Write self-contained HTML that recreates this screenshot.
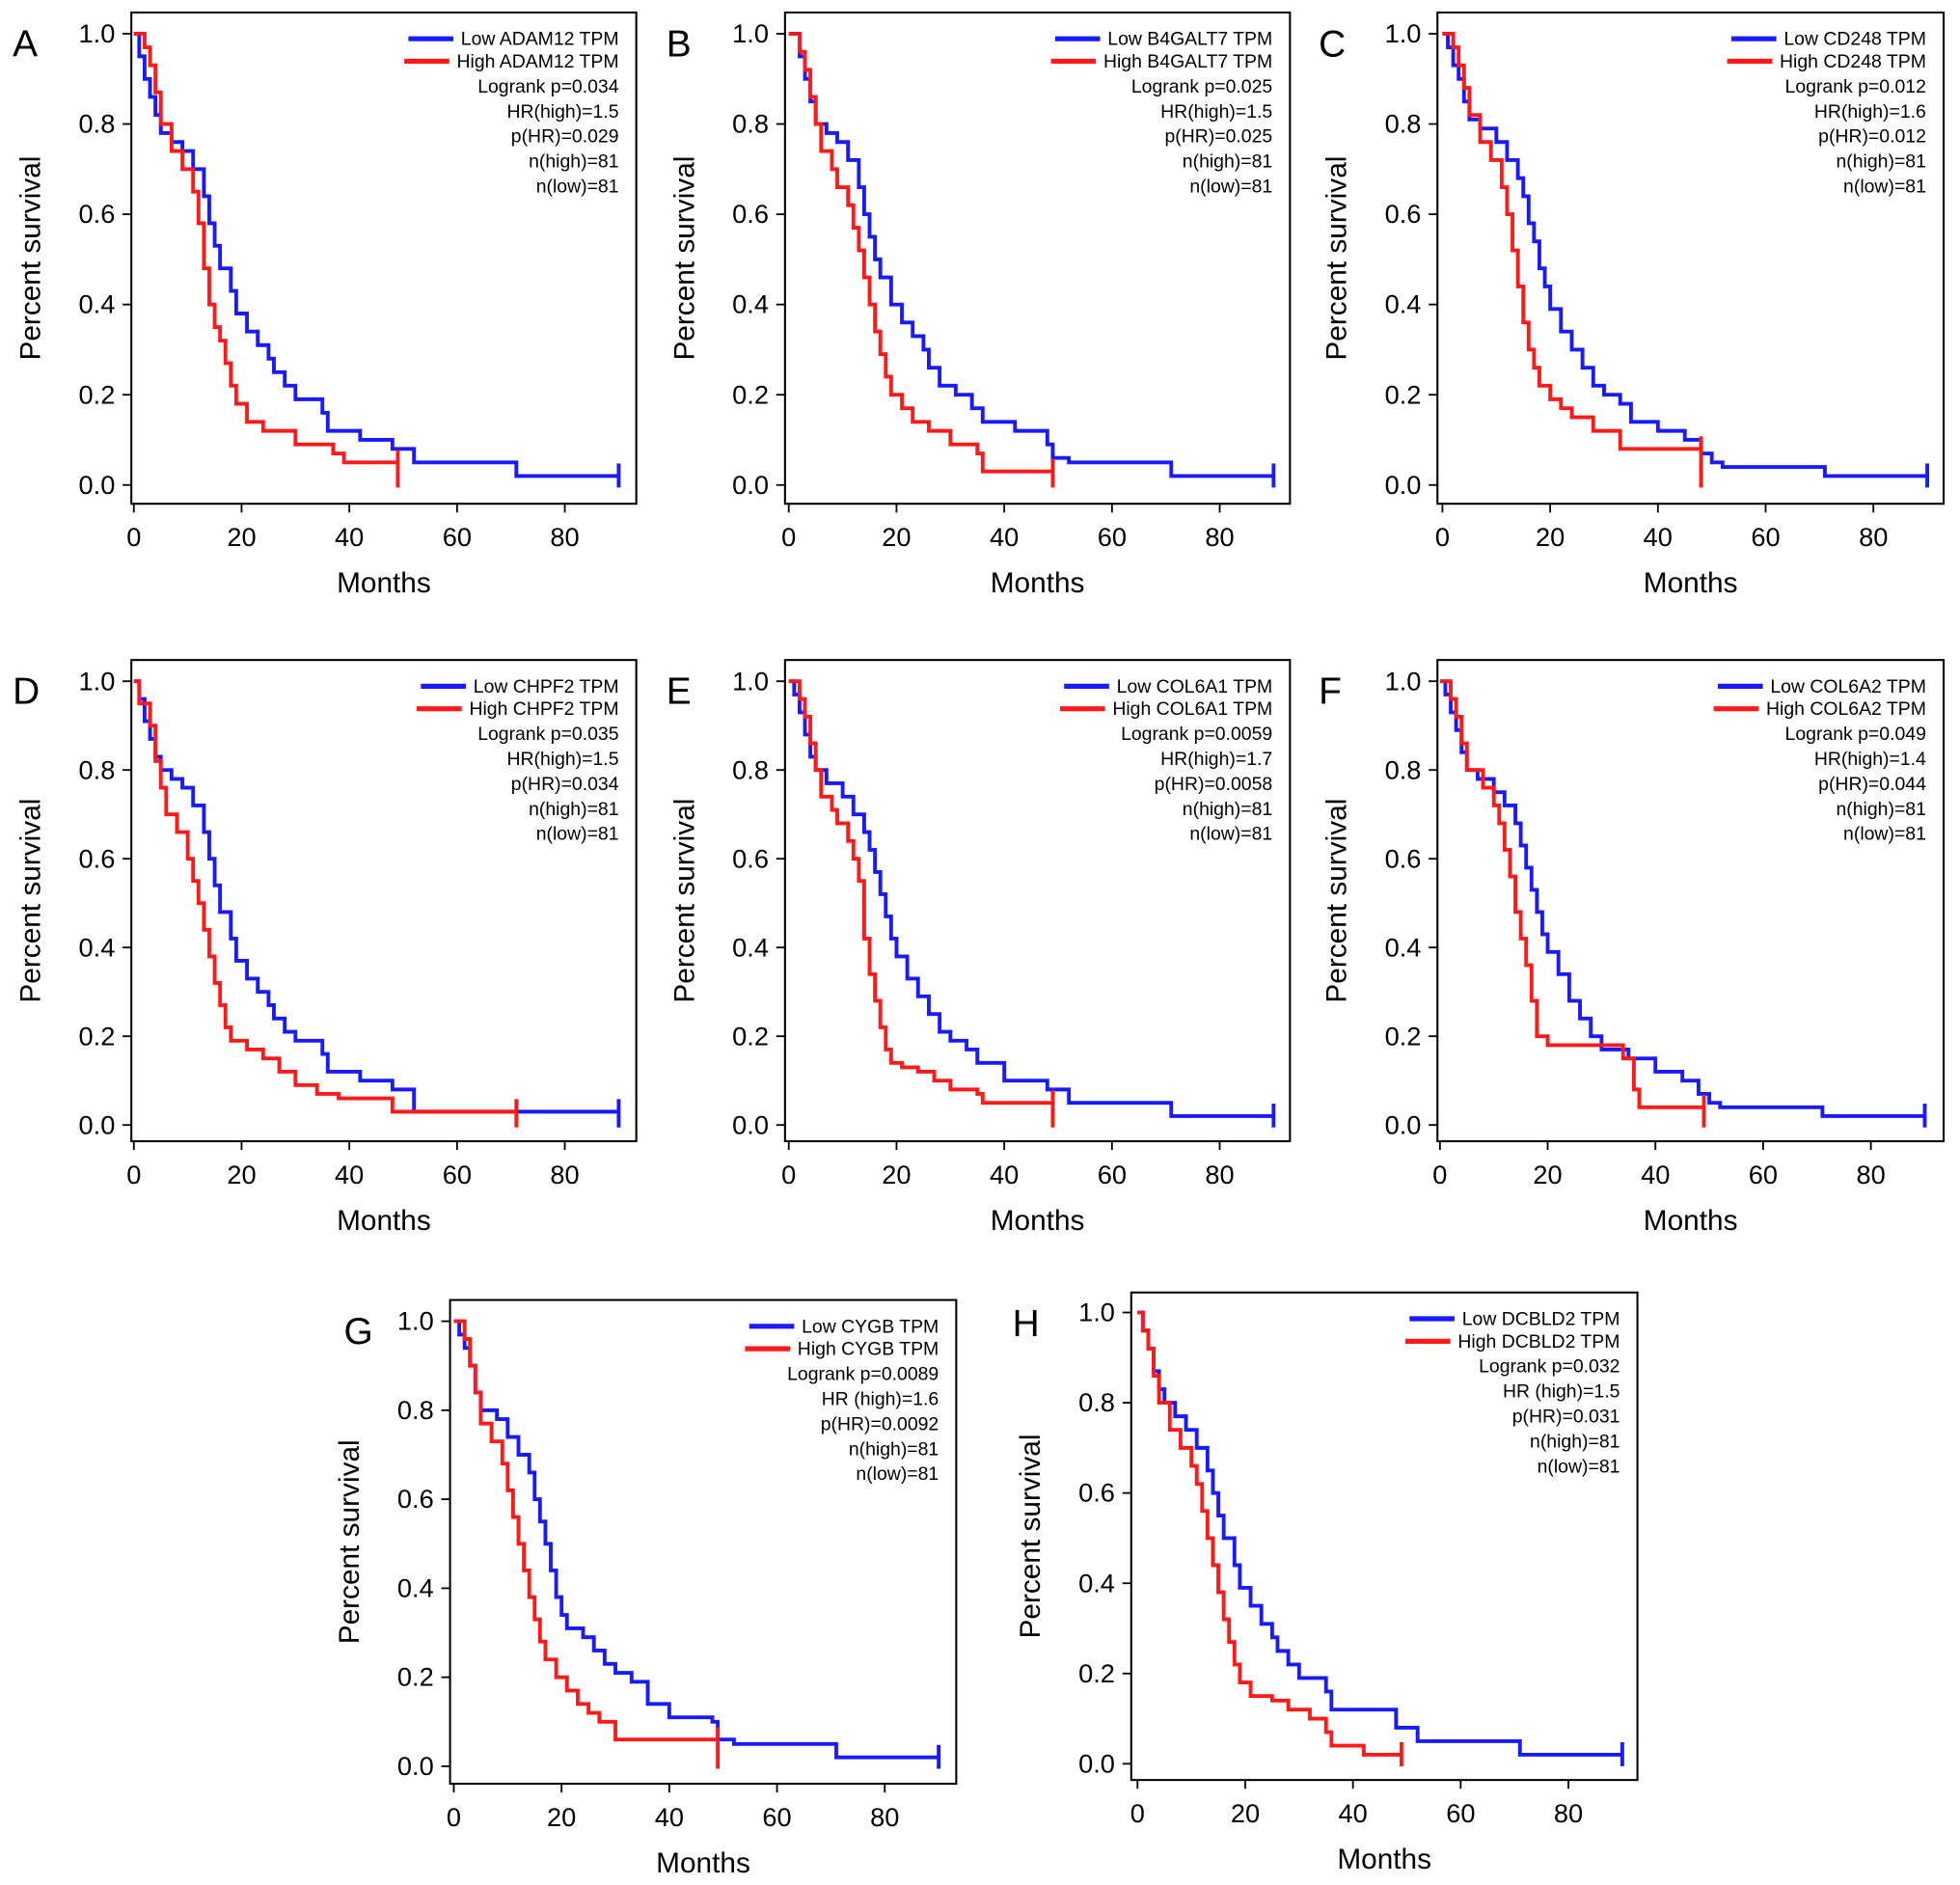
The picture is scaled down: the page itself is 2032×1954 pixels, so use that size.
<!DOCTYPE html>
<html><head><meta charset="utf-8">
<style>
html,body{margin:0;padding:0;background:#fff;}
svg{display:block;font-family:"Liberation Sans",Arial,sans-serif;}
</style></head>
<body>
<svg id="fig" width="2032" height="1954" viewBox="0 0 1568 1508" xmlns="http://www.w3.org/2000/svg"></svg>
<script>
const xTicks = [0,20,40,60,80];
const yTicks = [0,0.2,0.4,0.6,0.8,1.0];
const yTickLabels = ["0.0","0.2","0.4","0.6","0.8","1.0"];
const panelLetters = ["A","B","C","D","E","F","G","H"];
const genes = ["ADAM12","B4GALT7","CD248","CHPF2","COL6A1","COL6A2","CYGB","DCBLD2"];
const logrankP = ["0.034","0.025","0.012","0.035","0.0059","0.049","0.0089","0.032"];
const hrHigh = ["1.5","1.5","1.6","1.5","1.7","1.4","1.6","1.5"];
const pHR = ["0.029","0.025","0.012","0.034","0.0058","0.044","0.0092","0.031"];
const nHigh = [81,81,81,81,81,81,81,81];
const nLow = [81,81,81,81,81,81,81,81];

const lowA_T=[0,1,2,3,4,5,7,9,11,13,14,15,16,18,19,21,23,25,26,28,30,35,36,42,48,52,71,90];
const lowA_S=[1,.95,.9,.86,.82,.78,.76,.74,.7,.64,.58,.53,.48,.43,.38,.34,.31,.28,.25,.22,.19,.16,.12,.1,.08,.05,.02,.02];
const highA_T=[0,2,3,4,5,7,9,11,12,13,14,15,16,17,18,19,21,24,30,37,39,49];
const highA_S=[1,.97,.93,.87,.8,.74,.7,.65,.58,.48,.4,.35,.32,.27,.22,.18,.14,.12,.09,.07,.05,.05];

const lowB_T=[0,2,3,4,5,7,9,11,13,14,15,16,17,19,21,23,25,26,28,31,34,36,42,48,49,52,71,90];
const lowB_S=[1,.95,.9,.85,.8,.78,.76,.72,.66,.6,.55,.5,.46,.4,.36,.33,.3,.26,.22,.2,.17,.14,.12,.09,.06,.05,.02,.02];
const highB_T=[0,2,3,4,5,6,8,9,11,12,13,14,15,16,17,18,19,21,23,26,30,35,36,49];
const highB_S=[1,.96,.92,.86,.8,.74,.7,.66,.62,.57,.52,.46,.4,.34,.29,.24,.2,.17,.14,.12,.09,.07,.03,.03];

const lowC_T=[0,1,2,3,4,5,7,10,12,14,15,16,17,18,19,20,22,24,26,28,30,33,35,40,45,48,50,52,71,90];
const lowC_S=[1,.97,.93,.9,.85,.81,.79,.76,.72,.68,.64,.58,.54,.48,.44,.39,.34,.3,.26,.22,.2,.18,.14,.12,.1,.07,.05,.04,.02,.02];
const highC_T=[0,2,3,4,5,7,9,11,12,13,14,15,16,17,18,20,22,24,28,33,48];
const highC_S=[1,.97,.93,.88,.82,.76,.72,.66,.6,.52,.44,.36,.3,.26,.22,.19,.17,.15,.12,.08,.08];

const lowD_T=[0,1,2,3,4,5,7,9,11,13,14,15,16,18,19,21,23,25,26,28,30,35,36,42,48,52,90];
const lowD_S=[1,.96,.91,.87,.83,.8,.78,.76,.72,.66,.6,.54,.48,.42,.37,.33,.3,.27,.24,.21,.19,.16,.12,.1,.08,.03,.03];
const highD_T=[0,1,3,4,5,6,8,10,11,12,13,14,15,16,17,18,21,24,27,30,34,38,48,71];
const highD_S=[1,.95,.9,.82,.76,.7,.66,.6,.55,.5,.44,.38,.32,.27,.22,.19,.17,.15,.12,.09,.07,.06,.03,.03];

const lowE_T=[0,1,2,3,4,5,7,10,12,14,15,16,17,18,19,20,22,24,26,28,30,33,35,40,48,52,71,90];
const lowE_S=[1,.97,.93,.88,.83,.8,.77,.74,.7,.66,.62,.57,.52,.47,.42,.38,.33,.29,.25,.21,.19,.17,.14,.1,.08,.05,.02,.02];
const highE_T=[0,2,3,4,5,6,8,9,11,12,13,14,15,16,17,18,19,21,24,27,30,35,36,47,49];
const highE_S=[1,.96,.92,.86,.8,.74,.71,.68,.64,.6,.55,.42,.34,.28,.22,.17,.14,.13,.12,.1,.08,.07,.05,.05,.05];

const lowF_T=[0,1,2,3,4,5,7,10,12,14,15,16,17,18,19,20,22,24,26,28,30,33,35,40,45,48,50,52,71,90];
const lowF_S=[1,.97,.93,.89,.84,.8,.78,.75,.72,.68,.63,.58,.53,.48,.43,.39,.34,.28,.24,.2,.17,.17,.15,.12,.1,.07,.05,.04,.02,.02];
const highF_T=[0,2,3,4,5,8,10,11,12,13,14,15,16,17,18,20,30,34,36,37,49];
const highF_S=[1,.96,.92,.86,.8,.76,.72,.68,.62,.56,.48,.42,.36,.28,.2,.18,.18,.15,.08,.04,.04];

const lowG_T=[0,1,2,3,4,5,8,10,12,14,15,16,17,18,19,20,21,24,26,28,30,33,36,40,48,49,52,71,90];
const lowG_S=[1,.97,.94,.9,.84,.8,.78,.74,.7,.66,.6,.55,.5,.44,.38,.34,.31,.29,.26,.23,.21,.19,.14,.11,.1,.06,.05,.02,.02];
const highG_T=[0,2,3,4,5,7,9,10,11,12,13,14,15,16,17,19,21,23,25,27,30,49];
const highG_S=[1,.96,.9,.84,.77,.73,.68,.62,.56,.5,.44,.38,.33,.28,.24,.2,.17,.14,.12,.1,.06,.06];

const lowH_T=[0,1,2,3,4,5,7,9,11,13,14,15,16,18,19,21,23,25,26,28,30,35,36,42,48,52,71,90];
const lowH_S=[1,.96,.92,.87,.83,.8,.77,.74,.7,.65,.6,.55,.5,.44,.39,.35,.31,.28,.25,.22,.19,.16,.12,.12,.08,.05,.02,.02];
const highH_T=[0,1,2,3,4,6,8,10,11,12,13,14,15,16,17,18,19,21,25,28,32,35,36,42,49];
const highH_S=[1,.96,.92,.86,.8,.74,.7,.66,.62,.56,.5,.44,.38,.32,.27,.22,.18,.15,.14,.12,.1,.07,.04,.02,.02];

const lowTimes=[lowA_T,lowB_T,lowC_T,lowD_T,lowE_T,lowF_T,lowG_T,lowH_T];
const lowSurv=[lowA_S,lowB_S,lowC_S,lowD_S,lowE_S,lowF_S,lowG_S,lowH_S];
const highTimes=[highA_T,highB_T,highC_T,highD_T,highE_T,highF_T,highG_T,highH_T];
const highSurv=[highA_S,highB_S,highC_S,highD_S,highE_S,highF_S,highG_S,highH_S];

// layout (pixel geometry, not data)
const boxes=[
 {l:105,t:10,r:509,b:403,y1:27,y0:388,x0:107},
 {l:628,t:10,r:1032,b:403,y1:27,y0:388,x0:631},
 {l:1150,t:10,r:1555,b:403,y1:27,y0:388,x0:1154},
 {l:105,t:528,r:509,b:913,y1:545,y0:900,x0:107},
 {l:628,t:528,r:1032,b:913,y1:545,y0:900,x0:631},
 {l:1150,t:528,r:1555,b:913,y1:545,y0:900,x0:1152},
 {l:360,t:1040,r:765,b:1427,y1:1057,y0:1413,x0:363},
 {l:905,t:1034,r:1310,b:1424,y1:1050,y0:1411,x0:910}
];
const PXM=4.31;
const NS="http://www.w3.org/2000/svg";
const svg=document.getElementById('fig');
function mk(tag,attrs,parent){const e=document.createElementNS(NS,tag);for(const k in attrs)e.setAttribute(k,attrs[k]);(parent||svg).appendChild(e);return e;}
function txt(s,attrs,parent){const e=mk('text',attrs,parent);e.textContent=s;return e;}

boxes.forEach((B,i)=>{
  const xs=m=>B.x0+m*PXM;
  const ys=v=>B.y0-(B.y0-B.y1)*v;
  const g=mk('g',{});
  
  
  const fr=mk('rect',{x:B.l,y:B.t,width:B.r-B.l,height:B.b-B.t,fill:'none',stroke:'#000','stroke-width':1.6},g);
  
  
  const L=txt(panelLetters[i],{x:B.l-95+(i==6?10:0),y:B.t+35,'font-size':30,fill:'#000'},g);
  
  
  yTicks.forEach((v,k)=>{
    mk('line',{x1:B.l-7,x2:B.l,y1:ys(v),y2:ys(v),stroke:'#000','stroke-width':1.4},g);
    const t=txt(yTickLabels[k],{x:B.l-13,y:ys(v)+7,'text-anchor':'end','font-size':21},g);
    
    
  });
  xTicks.forEach(m=>{
    mk('line',{x1:xs(m),x2:xs(m),y1:B.b,y2:B.b+7,stroke:'#000','stroke-width':1.4},g);
    const t=txt(String(m),{x:xs(m),y:B.b+34,'text-anchor':'middle','font-size':21},g);
    
    
  });
  const xl=txt('Months',{x:(B.l+B.r)/2,y:B.b+71,'text-anchor':'middle','font-size':23},g);
  
  
  const cy=(B.t+B.b)/2, cx=B.l-73;
  const yl=txt('Percent survival',{x:cx,y:cy,'text-anchor':'middle','font-size':23,transform:`rotate(-90 ${cx} ${cy})`},g);
  
  
  function curve(T,S,color,name){
    let d=`M${xs(T[0])},${ys(S[0])}`;
    for(let k=1;k<T.length;k++){d+=` H${xs(T[k])} V${ys(S[k])}`;}
    const last=T.length-1;
    d+=` M${xs(T[last])},${ys(S[last])-10} V${B.y0+2}`;
    const p=mk('path',{d:d,fill:'none',stroke:color,'stroke-width':3},g);
    
    
  }
  curve(lowTimes[i],lowSurv[i],'#1a1aff','low-expression-curve');
  curve(highTimes[i],highSurv[i],'#ff1a1a','high-expression-curve');
  const rx=B.r-14, ly=B.t+21;
  const lg=mk('g',{},g);
  
  
  const tl=txt('Low '+genes[i]+' TPM',{x:rx,y:ly+5,'text-anchor':'end','font-size':15},lg);
  const th=txt('High '+genes[i]+' TPM',{x:rx,y:ly+23,'text-anchor':'end','font-size':15},lg);
  const wl=tl.getComputedTextLength(), wh=th.getComputedTextLength();
  mk('line',{x1:rx-wl-42,x2:rx-wl-6,y1:ly,y2:ly,stroke:'#1a1aff','stroke-width':4},lg);
  mk('line',{x1:rx-wh-42,x2:rx-wh-6,y1:ly+18,y2:ly+18,stroke:'#ff1a1a','stroke-width':4},lg);
  const hrLbl=(i>=6)?'HR (high)=':'HR(high)=';
  const stats=['Logrank p='+logrankP[i],hrLbl+hrHigh[i],'p(HR)='+pHR[i],'n(high)='+nHigh[i],'n(low)='+nLow[i]];
  stats.forEach((s,k)=>{
    const t=txt(s,{x:rx,y:ly+43+k*20,'text-anchor':'end','font-size':15},lg);
    
    
  });
});
</script>
</body></html>
